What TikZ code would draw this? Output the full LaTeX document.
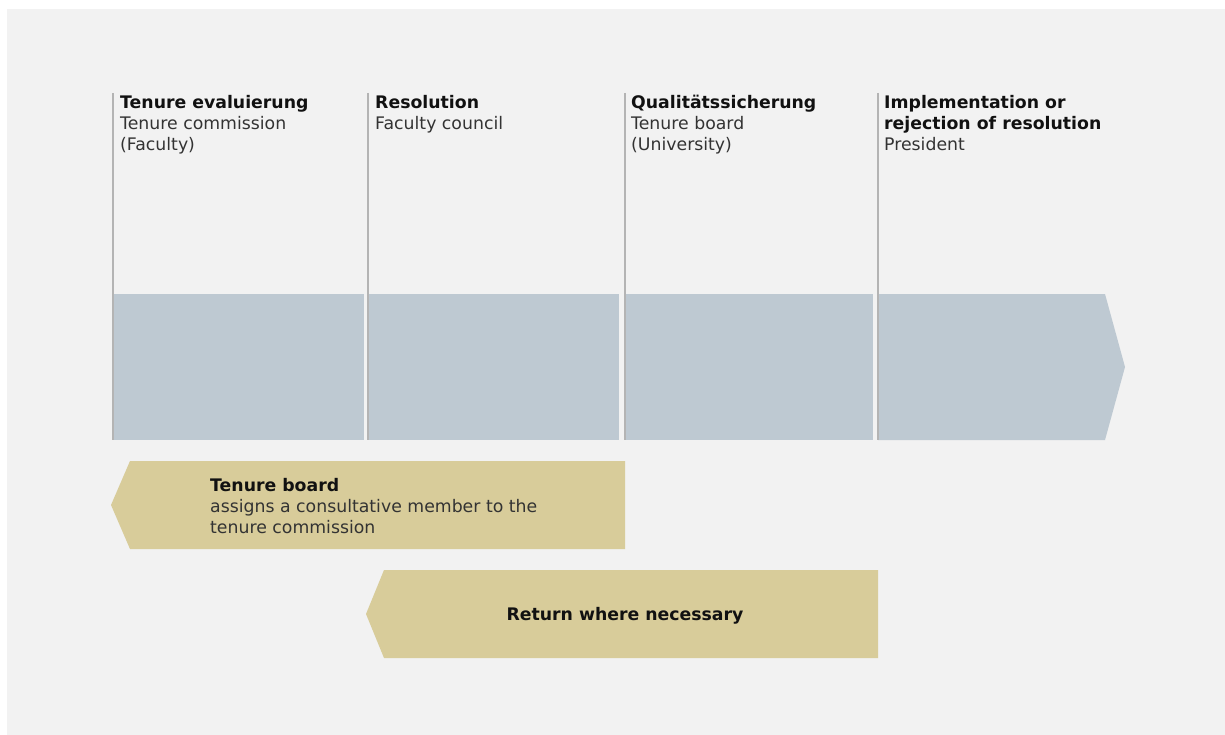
\documentclass[tikz,border=0pt]{standalone}
\usepackage{fontspec}
\setmainfont{DejaVu Sans}
\begin{document}
\definecolor{panelbg}{HTML}{F2F2F2}
\definecolor{phaseblue}{HTML}{BEC9D2}
\definecolor{notegold}{HTML}{D8CC9A}
\definecolor{ruleGray}{HTML}{B4B4B4}
\definecolor{headtext}{HTML}{111111}
\definecolor{bodytext}{HTML}{333333}
\begin{tikzpicture}[x=1pt,y=-1pt,
  phase/.style={fill=phaseblue},
  note/.style={fill=notegold},
  rulebar/.style={draw=ruleGray,line width=1.4pt},
  lbl/.style={inner sep=0pt,anchor=north west,align=left,text=bodytext,
    font=\fontsize{17.3}{21}\selectfont},
  ctr/.style={inner sep=0pt,anchor=center,align=center,text=headtext,
    font=\fontsize{17.3}{21}\selectfont\bfseries}]
\useasboundingbox (0,0) rectangle (1225,735);
\fill[white] (0,0) rectangle (1225,735);
\fill[panelbg] (7,9) rectangle (1225,735);

% phase blocks
\fill[phase] (113,294) rectangle (364,440);
\fill[phase] (369,294) rectangle (619,440);
\fill[phase] (625,294) rectangle (873,440);
\fill[phase] (878,294) -- (1105,294) -- (1125,367) -- (1105,440) -- (878,440) -- cycle;

% column rules
\foreach \x/\n in {113/a,368/b,625/c,878/d}{
  \coordinate (top\n) at (\x,93);
  \coordinate (bot\n) at (\x,440);
  \draw[rulebar] (top\n) -- (bot\n);
}

% column headings
\node[lbl] (h1) at (120,95) {{\color{headtext}\bfseries Tenure evaluierung}\\Tenure commission\\(Faculty)};
\node[lbl] (h2) at (375,95) {{\color{headtext}\bfseries Resolution}\\Faculty council};
\node[lbl] (h3) at (631,95) {{\color{headtext}\bfseries Qualitätssicherung}\\Tenure board\\(University)};
\node[lbl] (h4) at (884,95) {{\color{headtext}\bfseries Implementation or}\\{\color{headtext}\bfseries rejection of resolution}\\President};

% backward notes
\fill[note] (111,505) -- (130,461) -- (625,461) -- (625,549) -- (130,549) -- cycle;
\node[lbl] (n1) at (210,478.5) {{\color{headtext}\bfseries Tenure board}\\assigns a consultative member to the\\tenure commission};

\fill[note] (366,614) -- (384,570) -- (878,570) -- (878,658) -- (384,658) -- cycle;
\node[ctr] (n2) at (625,616) {Return where necessary};
\end{tikzpicture}
\end{document}
